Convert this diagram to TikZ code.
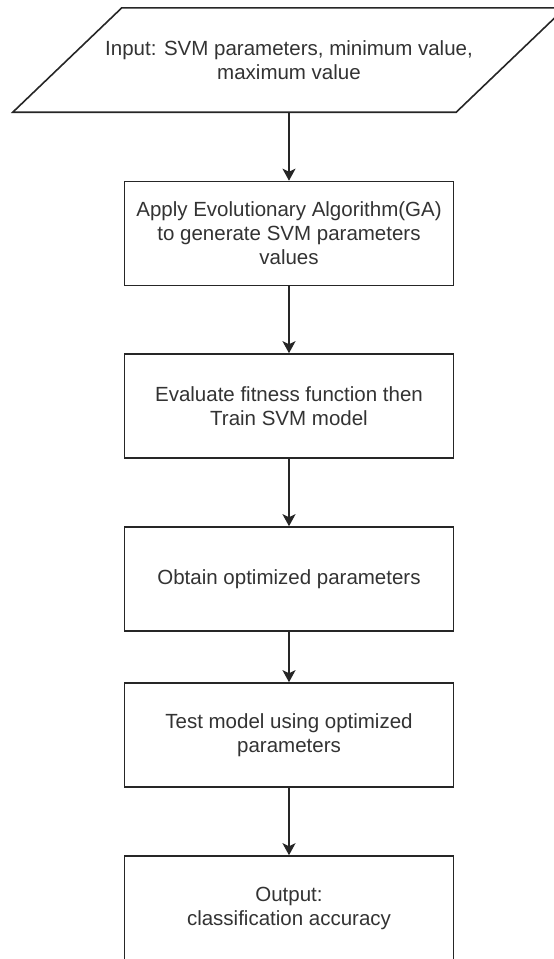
\documentclass[tikz,border=0pt]{standalone}
\usepackage{fontspec}
\setmainfont{Liberation Sans}
\usetikzlibrary{arrows.meta,calc}
\begin{document}
\begin{tikzpicture}[x=1pt,y=-1pt,
  every node/.style={font=\fontsize{20.5}{24}\selectfont, text=black!80, align=center},
  procbox/.style={draw=black!85, line width=1.6pt, minimum width=329pt, minimum height=104pt, inner sep=0pt},
  flow/.style={draw=black!85, line width=1.6pt, -{Stealth[length=12pt,width=13pt,inset=3pt]}}]
\useasboundingbox (0,0) rectangle (554,959);
\clip (0,0) rectangle (554,959);
\fill[white] (0,0) rectangle (554,959);
% input parallelogram
\node[minimum width=443pt, minimum height=104pt, inner sep=0pt] (in) at (289,60)
  {Input: SVM parameters, minimum value,\\maximum value};
\draw[draw=black!85, line width=1.6pt, line join=miter]
  ($(in.south west)+(-54.5,0)$) -- ($(in.south east)+(-54.5,0)$)
  -- ($(in.north east)+(54.5,0)$) -- ($(in.north west)+(54.5,0)$) -- cycle;
\node[procbox] (b1) at (289,233.5) {Apply Evolutionary Algorithm(GA)\\to generate SVM parameters\\values};
\node[procbox] (b2) at (289,406) {Evaluate fitness function then\\Train SVM model};
\node[procbox] (b3) at (289,579) {Obtain optimized parameters};
\node[procbox] (b4) at (289,735) {Test model using optimized\\parameters};
\node[procbox] (b5) at (289,908) {Output:\\classification accuracy};
\draw[flow] (in.south) -- (b1.north);
\draw[flow] (b1.south) -- (b2.north);
\draw[flow] (b2.south) -- (b3.north);
\draw[flow] (b3.south) -- (b4.north);
\draw[flow] (b4.south) -- (b5.north);
\end{tikzpicture}
\end{document}
